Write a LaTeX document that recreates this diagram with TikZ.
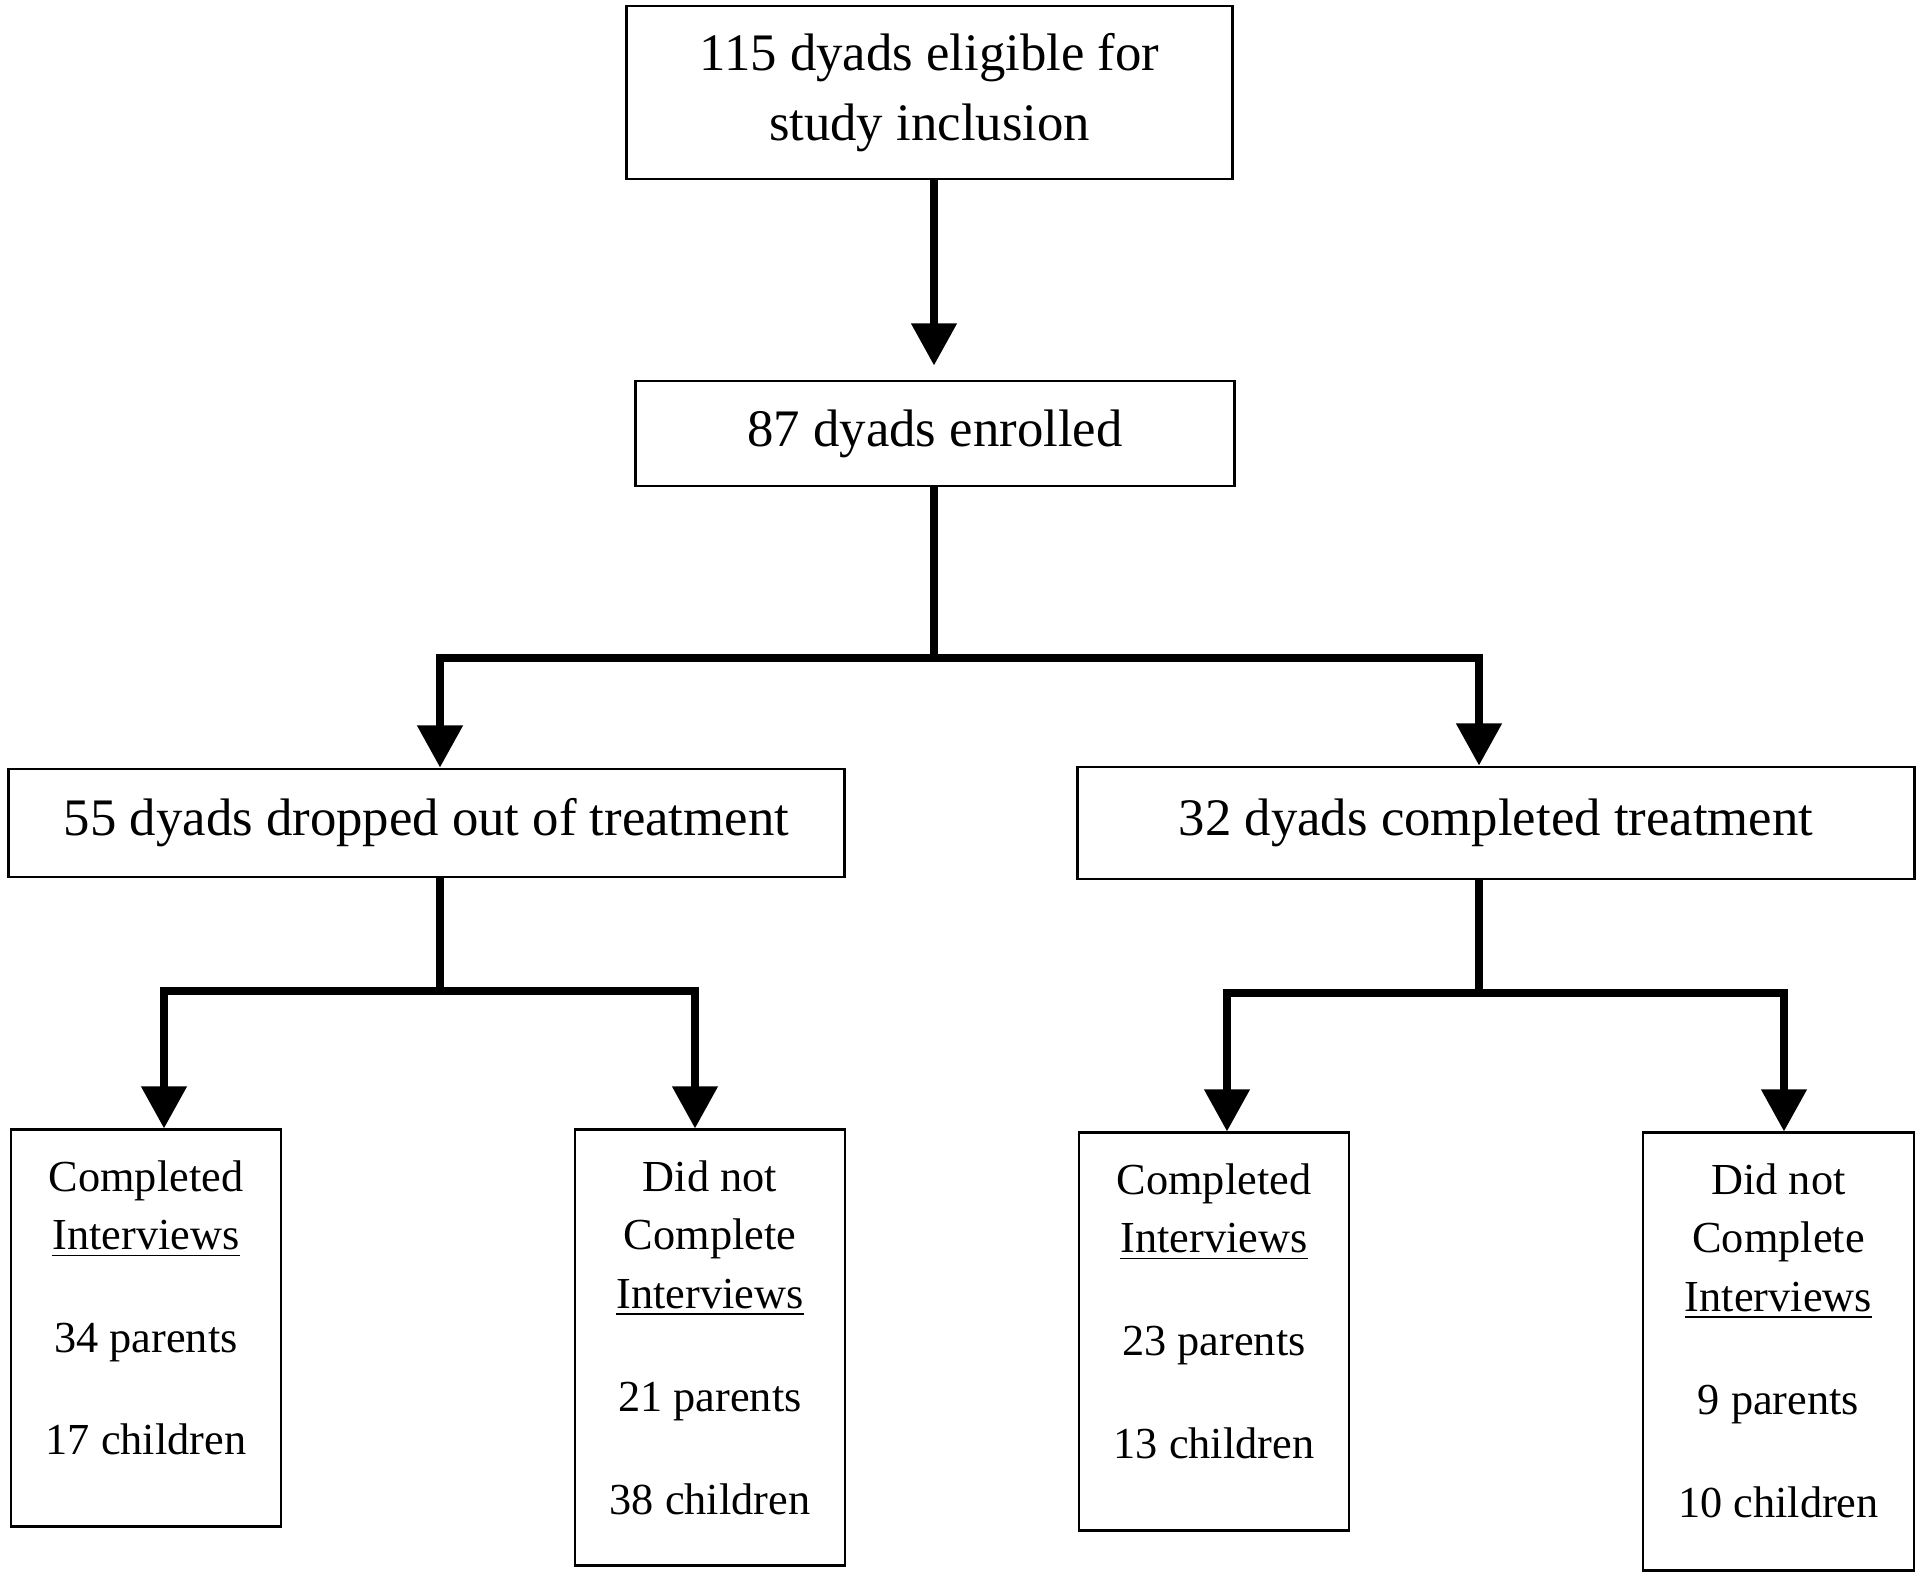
\documentclass[tikz,border=0pt]{standalone}
\usepackage{fontspec}
\setmainfont{Liberation Serif}
\usetikzlibrary{arrows.meta}
\begin{document}
\begin{tikzpicture}[x=0.01cm,y=-0.01cm,
  box/.style={draw, line width=0.8pt, inner sep=0pt, align=center},
  bigtxt/.style={font=\fontsize{15}{19.9}\selectfont},
  smalltxt/.style={font=\fontsize{12.6}{16.64}\selectfont, align=center, inner sep=0pt, anchor=north},
  conn/.style={line width=2.3pt},
  arr/.style={line width=2.3pt, -{Triangle[width=12.5pt,length=12pt]}}]
\useasboundingbox[fill=white] (0,0) rectangle (1920,1575);

% main boxes
\node[box,bigtxt,minimum width=6.05cm,minimum height=1.73cm] (b1) at (929.5,92.5) {115 dyads eligible for\\study inclusion};
\node[box,bigtxt,minimum width=5.98cm,minimum height=1.05cm] (b2) at (935,433.5) {87 dyads enrolled};
\node[box,bigtxt,minimum width=8.35cm,minimum height=1.08cm] (b3) at (426.5,823) {55 dyads dropped out of treatment};
\node[box,bigtxt,minimum width=8.36cm,minimum height=1.12cm] (b4) at (1496,823) {32 dyads completed treatment};

% bottom boxes
\node[box,minimum width=2.70cm,minimum height=3.96cm] (b5) at (146,1328) {};
\node[box,minimum width=2.70cm,minimum height=4.35cm] (b6) at (710,1347.5) {};
\node[box,minimum width=2.70cm,minimum height=3.97cm] (b7) at (1214,1331.5) {};
\node[box,minimum width=2.71cm,minimum height=4.37cm] (b8) at (1778.5,1351.5) {};

\node[smalltxt] (t5) at (146,1160) {Completed\\\underline{Interviews}\\[12.6pt]34 parents\\[12.3pt]17 children};
\node[smalltxt] (t6) at (710,1160) {Did not\\Complete\\\underline{Interviews}\\[12.6pt]21 parents\\[12.6pt]38 children};
\node[smalltxt] (t7) at (1214,1163) {Completed\\\underline{Interviews}\\[12.6pt]23 parents\\[12.6pt]13 children};
\node[smalltxt] (t8) at (1778.5,1163) {Did not\\Complete\\\underline{Interviews}\\[12.6pt]9 parents\\[12.6pt]10 children};

% branch coordinates
\coordinate (x1) at (934,0);
\coordinate (x3) at (440,0);
\coordinate (x4) at (1479,0);
\coordinate (x5) at (164,0);
\coordinate (x6) at (695,0);
\coordinate (x7) at (1227,0);
\coordinate (x8) at (1784,0);
\coordinate (j1) at (934,658);
\coordinate (j2) at (440,991);
\coordinate (j3) at (1479,993);

% connectors
\draw[arr, shorten >=4pt] (b1.south -| x1) -- (b2.north -| x1);

\draw[conn] (b2.south -| x1) -- (j1);
\draw[arr] (j1) -| (b3.north -| x3);
\draw[arr] (j1) -| (b4.north -| x4);

\draw[conn] (b3.south -| x3) -- (j2);
\draw[arr] (j2) -| (b5.north -| x5);
\draw[arr] (j2) -| (b6.north -| x6);

\draw[conn] (b4.south -| x4) -- (j3);
\draw[arr] (j3) -| (b7.north -| x7);
\draw[arr] (j3) -| (b8.north -| x8);
\end{tikzpicture}
\end{document}
